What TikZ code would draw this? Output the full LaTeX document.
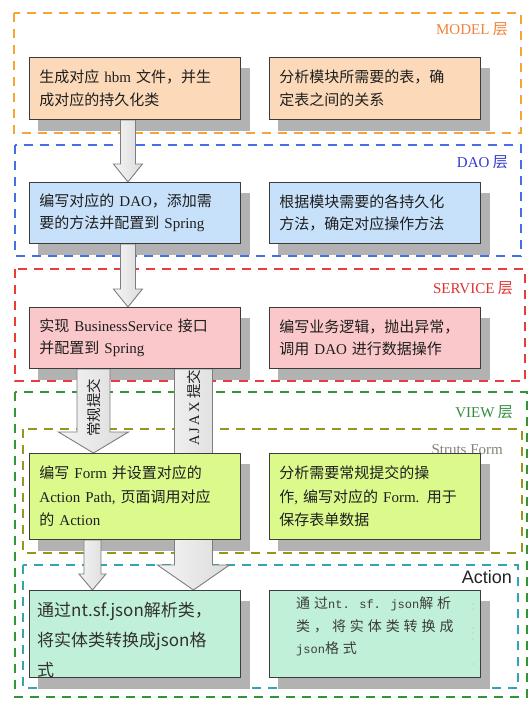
\documentclass[tikz,border=0pt]{standalone}
\usepackage{fontspec}
\setmainfont{Noto Sans CJK SC}
\newfontfamily\lat{Liberation Serif}
\newfontfamily\sansl{Liberation Sans}
\newfontfamily\monol[LetterSpace=0]{Liberation Mono}
\newfontfamily\cjksp[LetterSpace=28]{Noto Sans CJK SC}
\usetikzlibrary{calc}
\pgfdeclarelayer{bg}
\pgfdeclarelayer{shad}
\pgfdeclarelayer{arr}
\pgfsetlayers{bg,shad,arr,main}
\definecolor{cOrange}{RGB}{245,165,50}
\definecolor{cBlue}{RGB}{70,110,230}
\definecolor{cRed}{RGB}{235,60,60}
\definecolor{cGreen}{RGB}{50,150,50}
\definecolor{cOlive}{RGB}{150,150,30}
\definecolor{cTeal}{RGB}{50,165,175}
\definecolor{tOrange}{RGB}{240,130,60}
\definecolor{tBlue}{RGB}{50,60,200}
\definecolor{tRed}{RGB}{220,50,50}
\definecolor{tGreen}{RGB}{50,140,60}
\definecolor{tGray}{RGB}{130,130,115}
\definecolor{fModel}{RGB}{252,218,185}
\definecolor{fDao}{RGB}{200,225,250}
\definecolor{fServ}{RGB}{250,200,202}
\definecolor{fView}{RGB}{220,250,140}
\definecolor{fAct}{RGB}{192,240,215}
\definecolor{bord}{RGB}{60,60,60}
\definecolor{shc}{RGB}{178,178,178}
\definecolor{arrb}{RGB}{125,125,125}
\definecolor{txt}{RGB}{30,30,30}
\tikzset{
  frame/.style={draw=#1, line width=2.2pt, dash pattern=on 9pt off 7pt},
  box/.style={draw=bord, line width=0.9pt, fill=#1, minimum width=211pt,
    text width=191pt, inner xsep=10pt, inner ysep=0pt, align=left,
    anchor=north west, text=txt, font=\fontsize{15}{22.5}\selectfont},
  lbl/.style={anchor=east, inner sep=0pt, text=#1, font=\fontsize{15}{18}\selectfont},
  blk/.style={draw=arrb, line width=0.9pt, left color=gray!8, right color=gray!28},
  shadowfill/.style={fill=shc},
  rtxt/.style={rotate=90, inner sep=0pt, text=txt, font=\fontsize{14.5}{16}\selectfont}
}
\newcommand\blockarrow[5]{%
  \path[blk] let \p1=(#1), \p2=(#2) in
    (\x1-#3,\y1) -- (\x1-#3,\y2+#5) -- (\x1-#4,\y2+#5) -- (\x1,\y2)
    -- (\x1+#4,\y2+#5) -- (\x1+#3,\y2+#5) -- (\x1+#3,\y1) -- cycle;}
\begin{document}
\begin{tikzpicture}[x=1pt,y=-1pt]
\useasboundingbox (0,0) rectangle (529,702);

% boxes
\node[box=fModel, minimum height=62pt] (m1) at (29,57)
  {生成对应 {\lat hbm} 文件，并生\\成对应的持久化类};
\node[box=fModel, minimum height=62pt] (m2) at (269,57)
  {分析模块所需要的表，确\\定表之间的关系};
\node[box=fDao, minimum height=61pt] (d1) at (29,182)
  {编写对应的 {\lat DAO}，添加需\\要的方法并配置到 {\lat Spring}};
\node[box=fDao, minimum height=61pt] (d2) at (269,182)
  {根据模块需要的各持久化\\方法，确定对应操作方法};
\node[box=fServ, minimum height=61pt] (s1) at (29,307)
  {实现 {\lat BusinessService} 接口\\并配置到 {\lat Spring}};
\node[box=fServ, minimum height=61pt] (s2) at (269,307)
  {编写业务逻辑，抛出异常，\\调用 {\lat DAO} 进行数据操作};
\node[box=fView, minimum height=86pt, font=\fontsize{15}{23.5}\selectfont] (v1) at (29,453)
  {编写 {\lat Form} 并设置对应的\\{\lat Action Path,} 页面调用对应\\的 {\lat Action}};
\node[box=fView, minimum height=86pt, font=\fontsize{15}{23.5}\selectfont] (v2) at (269,453)
  {分析需要常规提交的操\\作{\lat ,} 编写对应的 {\lat Form.} 用于\\保存表单数据};
\node[box=fAct, minimum height=87pt] (a1) at (29,590) {};
\node[box=fAct, minimum height=87pt] (a2) at (269,590) {};

\node[anchor=base west, inner sep=0pt, align=left, text={rgb,255:red,50;green,50;blue,45},
  font=\fontsize{17}{30}\selectfont] (a1t) at (37,676.5)
  {通过nt.sf.json解析类，\\将实体类转换成json格\\式};
\node[anchor=base west, inner sep=0pt, align=left, text={rgb,255:red,60;green,60;blue,60},
  font=\fontsize{14}{22.5}\selectfont] (a2t) at (296,653.5)
  {{\cjksp 通过}{\monol\fontsize{12}{22.5}\selectfont nt. sf. json}{\cjksp 解析}\\{\cjksp 类，将实体类转换成}\\{\monol\fontsize{12}{22.5}\selectfont json}{\cjksp 格式}};

% faint marks in the right Action box
\fill[gray!55] (473,604) circle (0.7) (473,609) circle (0.7)
  (473,628) circle (0.7) (473,633) circle (0.7) (473,639) circle (0.7)
  (473,664) circle (0.7);

% layer frames and labels
\begin{pgfonlayer}{bg}
\fill[white] (0,0) rectangle (529,702);
\draw[frame=cOrange] (14,13) rectangle (521,133);
\draw[frame=cBlue] (15,145) rectangle (521,256);
\draw[frame=cRed] (15,269) rectangle (525,381);
\draw[frame=cGreen] (15,392) rectangle (527,697);
\draw[frame=cOlive] (23,429) rectangle (522,553);
\draw[frame=cTeal] (23,565) rectangle (518,688);
\node[lbl=tOrange] (lmodel) at (508,29) {{\lat MODEL} 层};
\node[lbl=tBlue] (ldao) at (508,162) {{\lat DAO} 层};
\node[lbl=tRed] (lserv) at (513,288) {{\lat SERVICE} 层};
\node[lbl=tGreen] (lview) at (513,412) {{\lat VIEW} 层};
\node[lbl=tGray] (lstruts) at (503,450) {{\lat Struts Form}};
\node[anchor=east, inner sep=0pt, text={rgb,255:red,35;green,35;blue,35},
  font=\sansl\fontsize{18}{20}\selectfont] (laction) at (512,577) {Action};
\end{pgfonlayer}

% shadows
\begin{pgfonlayer}{shad}
\foreach \n in {m1,m2,d1,d2,s1,s2,v1,v2,a1,a2}{
  \fill[shadowfill] ([shift={(9,11)}]\n.north west) rectangle ([shift={(9,11)}]\n.south east);
}
\end{pgfonlayer}

% block arrows
\coordinate (p1) at ([xshift=-7pt]m1.south);
\coordinate (p2) at ([xshift=-7pt]d1.south);
\coordinate (p3) at ([xshift=-41.5pt]s1.south);
\coordinate (p4) at ([xshift=-42.5pt]v1.south);
\coordinate (p5) at ([xshift=58.5pt]s1.south);
\begin{pgfonlayer}{arr}
\blockarrow{p1}{p1 |- d1.north}{7.5pt}{14.5pt}{18pt}
\blockarrow{p2}{p2 |- s1.north}{7.5pt}{14.5pt}{18pt}
\blockarrow{p3}{p3 |- v1.north}{16.5pt}{35pt}{21pt}
\blockarrow{p4}{p4 |- a1.north}{8.5pt}{13.5pt}{16pt}
\blockarrow{p5}{p5 |- a1.north}{19pt}{36pt}{25pt}
\node[rtxt] (t3) at ($(p3)+(0,39)$) {常规提交};
\node[rtxt] (t5) at ($(p5)+(0,39)$) {{\lat\addfontfeature{LetterSpace=15} AJAX} 提交};
\end{pgfonlayer}
\end{tikzpicture}
\end{document}
